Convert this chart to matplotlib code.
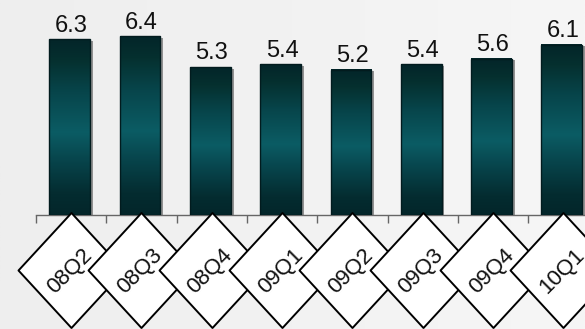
import numpy as np
import matplotlib
matplotlib.use("Agg")
import matplotlib.pyplot as plt
from matplotlib.colors import LinearSegmentedColormap
from matplotlib.path import Path
from matplotlib import patheffects as pe

plt.rcParams['font.family'] = ['Liberation Sans', 'DejaVu Sans']

quarters = ["08Q2", "08Q3", "08Q4", "09Q1", "09Q2", "09Q3", "09Q4", "10Q1"]
values = [6.3, 6.4, 5.3, 5.4, 5.2, 5.4, 5.6, 6.1]

W, H = 585, 329
fig = plt.figure(figsize=(W / 100, H / 100), dpi=100)

# soft light-grey backdrop, a touch lighter towards the right
bg = fig.add_axes([0, 0, 1, 1], zorder=-10)
bg.imshow(np.linspace(0, 1, 256)[None, :], aspect='auto', extent=[0, 1, 0, 1],
          cmap=LinearSegmentedColormap.from_list('bg', ['#eeeeee', '#f2f2f2', '#f6f6f6']))
bg.set_axis_off()

# plot area: baseline at 215 px from top, categories 70.3 px apart
left_px, base_px, step_px, unit_px = 36, 215, 70.3, 27.9
ax = fig.add_axes([left_px / W, (H - base_px) / H, len(quarters) * step_px / W, base_px / H])
ax.set_facecolor('none')

for s in ('left', 'right', 'top'):
    ax.spines[s].set_visible(False)
ax.spines['bottom'].set_color('#666666')
ax.spines['bottom'].set_linewidth(1.0)
ax.set_yticks([])
ax.set_xticks(np.arange(len(quarters) + 1) - 0.5)
ax.set_xticklabels([])
ax.tick_params(axis='x', direction='out', length=5.5, width=1.0, color='#666666')

# vertical teal sheen for the bars
bar_cmap = LinearSegmentedColormap.from_list(
    'teal', [(0.0, '#032529'), (0.12, '#05302f'), (0.3, '#07454b'),
             (0.53, '#0b5c64'), (0.7, '#07434a'), (0.88, '#042c30'), (1.0, '#03262a')])
grad = np.linspace(0, 1, 256)[:, None]

x = np.arange(len(quarters)) - 0.02
bw = 0.58
bars = ax.bar(x, values, width=bw, color='#042a2e', edgecolor='none', zorder=2,
              path_effects=[pe.SimplePatchShadow(offset=(2, -1), shadow_rgbFace='#7a7a7a', alpha=0.8),
                            pe.Normal()])
for b in bars:
    x0, w, h = b.get_x(), b.get_width(), b.get_height()
    ax.imshow(grad, extent=[x0, x0 + w, 0, h], aspect='auto', cmap=bar_cmap,
              vmin=0, vmax=1, origin='upper', zorder=3)
ax.bar(x, values, width=bw, color='none', edgecolor='#021b1e', linewidth=1.0, zorder=4)
ax.set_xlim(-0.5, len(quarters) - 0.5)
ax.set_ylim(0, base_px / unit_px)

for xi, v in zip(x, values):
    ax.annotate(f"{v:.1f}", (xi + 0.02, v), xytext=(0, 5.5), textcoords='offset points',
                ha='center', va='baseline', fontsize=17, color='#111111', zorder=5)

# diamond-framed category labels below the axis (slightly taller than wide)
rx = 53 / 57.5
diamond = Path([(0, 1), (rx, 0), (0, -1), (-rx, 0), (0, 1)],
               [Path.MOVETO, Path.LINETO, Path.LINETO, Path.LINETO, Path.CLOSEPOLY])
tr = ax.get_xaxis_transform()
for i, q in enumerate(quarters):
    ax.plot([i], [-0.258], marker=diamond, markersize=115 * 0.72, markerfacecolor='white',
            markeredgecolor='black', markeredgewidth=1.4, transform=tr,
            clip_on=False, zorder=6 + 2 * i)
    ax.text(i - 0.02, -0.26, q, transform=tr, rotation=45, rotation_mode='anchor',
            ha='center', va='center', fontsize=16, color='#111111',
            clip_on=False, zorder=7 + 2 * i)

fig.savefig("out.png", dpi=100, facecolor='#f1f1f1')
